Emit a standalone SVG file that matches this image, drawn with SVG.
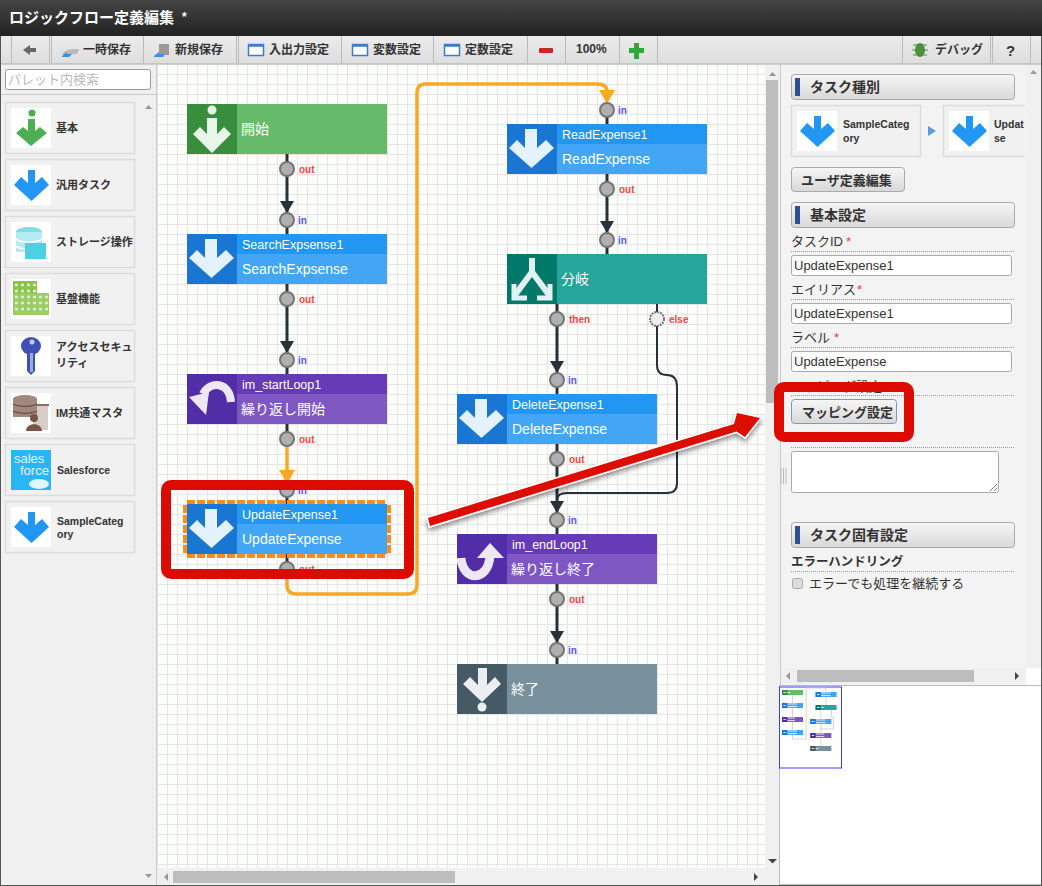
<svg xmlns="http://www.w3.org/2000/svg" width="1042" height="886" viewBox="0 0 1042 886">
<style>
text{font-family:"Liberation Sans","Noto Sans CJK JP",sans-serif}
.tb{font-size:12px;font-weight:bold;fill:#333}
.sep{stroke:#bbb;stroke-width:1}
.pal{fill:#f1f1f1;stroke:#dcdcdc;stroke-width:1.5}
.ic{fill:#fff}
.pl{font-size:11px;font-weight:bold;fill:#333}
.pll{font-size:10.5px;font-weight:bold;fill:#333}
.id{font-size:12.5px;fill:#fff}
.lb{font-size:14px;fill:#fff}
.lbj{font-size:14px;fill:#fff}
.port{fill:#b0b0b0;stroke:#757575;stroke-width:2}
.out{font-size:10px;font-weight:bold;fill:#f44}
.in{font-size:10px;font-weight:bold;fill:#55f}
.dark{fill:none;stroke:#263238;stroke-width:3}
.dark2{fill:none;stroke:#263238;stroke-width:2}
.org{fill:none;stroke:#f9a825;stroke-width:3.5}
.sec{fill:url(#btn);stroke:#aaa;stroke-width:1}
.bar{fill:#2f4f94}
.sect{font-size:14px;font-weight:bold;fill:#333}
.lab{font-size:13px;fill:#333}
.req{font-size:13px;fill:#f33}
.dot{stroke:#999;stroke-width:1;stroke-dasharray:1 1}
.inp{fill:#fff;stroke:#aaa;stroke-width:1}
.val{font-size:13px;fill:#333}
.red{fill:none;stroke:#dd0a00;stroke-width:10}
.sb{fill:#bdbdbd}
.arr{fill:#999}
.w{fill:#e3f2fd}
.sel{fill:none;stroke:#ff8c1a;stroke-width:4;stroke-dasharray:8 2}
</style>
<defs>
<linearGradient id="title" x1="0" y1="0" x2="0" y2="1"><stop offset="0" stop-color="#444"/><stop offset="1" stop-color="#222"/></linearGradient>
<linearGradient id="tool" x1="0" y1="0" x2="0" y2="1"><stop offset="0" stop-color="#ececec"/><stop offset="1" stop-color="#dedede"/></linearGradient>
<linearGradient id="btn" x1="0" y1="0" x2="0" y2="1"><stop offset="0" stop-color="#f6f6f6"/><stop offset="1" stop-color="#d8d8d8"/></linearGradient>
<pattern id="grid" width="10" height="10" patternUnits="userSpaceOnUse" patternTransform="translate(7,4)"><path d="M0.5 0V10M0 0.5H10" stroke="#e8e4e4" stroke-width="1" fill="none"/></pattern>
<marker id="mD" markerUnits="userSpaceOnUse" markerWidth="14" markerHeight="12" refX="7" refY="12" orient="0" viewBox="0 0 14 12"><path d="M0 0H14L7 12Z" fill="#263238"/></marker>
<polygon id="down" points="18,5 30,5 30,24 39,16 47,24 24.500,44 2,24 10,16 18,24"/>
<polygon id="palDown" points="17,5 24,5 24,18 31,12 38,20 20.500,36 3,20 10,12 17,18"/>
<filter id="sh" x="-5%" y="-20%" width="110%" height="140%"><feDropShadow dx="0" dy="3" stdDeviation="2.500" flood-color="#000" flood-opacity=".45"/></filter>
<clipPath id="cardClip"><rect x="780" y="100" width="245" height="62"/></clipPath>
</defs>

<rect width="1042" height="886" fill="#f2f2f2"/>

<g id="titlebar">
<rect width="1042" height="36" fill="url(#title)"/>
<text x="9" y="23" font-size="15" font-weight="bold" fill="#fff">ロジックフロー定義編集</text>
<text x="182" y="21" font-size="12" font-weight="bold" fill="#fff">*</text>
</g>

<g id="toolbar">
<rect y="36" width="1042" height="28" fill="url(#tool)"/>
<path class="sep" d="M11.500 36V63M49.500 36V63M51.500 36V63M143.500 36V63M236.500 36V63M238.500 36V63M341.500 36V63M433.500 36V63M527.500 36V63M565.500 36V63M619.500 36V63M657.500 36V63M902.500 36V63M990.500 36V63M992.500 36V63M1030.500 36V63"/>
<path d="M0 64H1042" stroke="#aaa"/>
<path d="M23 50l7-5v3h6v4h-6v3z" fill="#666"/>
<path d="M62 54c3-4 8-5 12-5h5l-2 5h-8l-2 2z" fill="#bbb"/><path d="M62 56l5-4v2h5l-3 3h-7z" fill="#3d8fd8"/>
<text class="tb" x="83" y="54">一時保存</text>
<rect x="159" y="44" width="10" height="11" fill="#999"/><path d="M154 56l5-4v2h6l-2 3h-9z" fill="#3d8fd8"/>
<text class="tb" x="175" y="54">新規保存</text>
<g fill="#fff" stroke="#3a7fc4" stroke-width="1.500"><rect x="248.500" y="44.500" width="15" height="11"/><rect x="352.500" y="44.500" width="15" height="11"/><rect x="444.500" y="44.500" width="15" height="11"/></g>
<path d="M248 45.500h16M352 45.500h16M444 45.500h16" stroke="#3a7fc4" stroke-width="2.500"/>
<text class="tb" x="269" y="54">入出力設定</text>
<text class="tb" x="373" y="54">変数設定</text>
<text class="tb" x="465" y="54">定数設定</text>
<rect x="539" y="48" width="14" height="5" rx="1" fill="#c62828"/>
<text class="tb" x="576" y="53">100%</text>
<path d="M634 43h5v5h5v5h-5v6h-5v-6h-5v-5h5z" fill="#2eaa3a"/>
<g fill="#4c8f3c"><ellipse cx="920" cy="50" rx="5" ry="7"/><path d="M913 45l14 0M912 50h16M913 55h14" stroke="#4c8f3c"/></g>
<text class="tb" x="935" y="54">デバッグ</text>
<text x="1006" y="56" font-size="15" font-weight="bold" fill="#333">?</text>
</g>

<g id="palette">
<rect x="0" y="65" width="157" height="821" fill="#f0f0f0"/>
<path d="M156.500 65V886" stroke="#ccc"/>
<path d="M0 94.500H156" stroke="#ccc"/>
<rect x="5.500" y="69.500" width="145" height="20" rx="2" fill="#fff" stroke="#999"/>
<text x="8" y="84" font-size="13" fill="#bbb">パレット内検索</text>
<path d="M145 109l3.500-4 3.500 4z" class="arr"/><path d="M145 874l3.500 4 3.500-4z" class="arr"/>
<rect class="pal" x="5.500" y="102.500" width="129" height="51"/><rect class="ic" x="11" y="108" width="40" height="40"/>
<rect class="pal" x="5.500" y="159.500" width="129" height="51"/><rect class="ic" x="11" y="165" width="40" height="40"/>
<rect class="pal" x="5.500" y="216.500" width="129" height="51"/><rect class="ic" x="11" y="222" width="40" height="40"/>
<rect class="pal" x="5.500" y="273.500" width="129" height="51"/><rect class="ic" x="11" y="279" width="40" height="40"/>
<rect class="pal" x="5.500" y="330.500" width="129" height="51"/><rect class="ic" x="11" y="336" width="40" height="40"/>
<rect class="pal" x="5.500" y="387.500" width="129" height="51"/><rect class="ic" x="11" y="393" width="40" height="40"/>
<rect class="pal" x="5.500" y="444.500" width="129" height="51"/><rect x="11" y="450" width="40" height="40" fill="#29b6f6"/>
<rect class="pal" x="5.500" y="501.500" width="129" height="51"/><rect class="ic" x="11" y="507" width="40" height="40"/>
<g fill="#4caf50"><circle cx="32" cy="113" r="3.500"/><polygon points="28,119 35,119 35,131 40,127 47,133 31,146 16,133 23,127 28,131"/></g>
<use href="#palDown" x="11" y="165" fill="#2196f3"/>
<g><ellipse cx="29" cy="232" rx="13" ry="5" fill="#80deea"/><rect x="16" y="232" width="26" height="20" fill="#b2ebf2"/><path d="M16 239c4 4 22 4 26 0M16 246c4 4 22 4 26 0" stroke="#fff" fill="none" stroke-width="1.500"/><rect x="25" y="243" width="21" height="16" fill="#4dd0e1"/></g>
<g><rect x="13" y="281" width="24" height="16" fill="#8bc34a"/><rect x="13" y="293" width="36" height="22" fill="#9ccc65"/><path d="M15 285H37M15 291H37M15 297H48M15 303H48M15 309H48" stroke="#dcedc8" stroke-width="2.500" stroke-dasharray="3 3"/></g>
<g fill="#3f51b5"><ellipse cx="31" cy="346" rx="10" ry="9"/><circle cx="32" cy="342" r="2.500" fill="#c5cae9"/><polygon points="27,352 35,352 35,371 31,375 27,371"/><rect x="30" y="353" width="3" height="19" fill="#9fa8da"/></g>
<g><rect x="33" y="404" width="15" height="26" fill="#d7ccc8"/><path d="M33 405H49" stroke="#8d6e63" stroke-width="2"/><ellipse cx="25" cy="399" rx="12" ry="4" fill="#a1887f"/><rect x="13" y="399" width="24" height="18" fill="#a1887f"/><path d="M13 404c4 3 20 3 24 0M13 411c4 3 20 3 24 0" stroke="#5d4037" fill="none"/><circle cx="34" cy="418" r="4" fill="#795548"/><path d="M26 431c0-9 16-9 16 0z" fill="#795548"/></g>
<g><text x="14" y="463" font-size="13" fill="#e1f5fe">sales</text><text x="20" y="475" font-size="13" fill="#e1f5fe">force</text><ellipse cx="39" cy="484" rx="10" ry="5" fill="#e1f5fe"/></g>
<use href="#palDown" x="11" y="507" fill="#2196f3"/>
<text class="pl" x="56" y="132">基本</text>
<text class="pl" x="56" y="189">汎用タスク</text>
<text class="pl" x="56" y="246">ストレージ操作</text>
<text class="pl" x="56" y="303">基盤機能</text>
<text class="pl" x="56" y="351">アクセスセキュ</text><text class="pl" x="56" y="367">リティ</text>
<text class="pl" x="56" y="417">IM共通マスタ</text>
<text class="pll" x="57" y="474">Salesforce</text>
<text class="pll" x="57" y="525">SampleCateg</text><text class="pll" x="57" y="538">ory</text>
</g>

<rect id="canvas" x="157" y="65" width="609" height="803" fill="#fcfefc"/>
<rect x="157" y="65" width="609" height="803" fill="url(#grid)"/>

<g id="connectors">
<path class="dark" d="M287 154V213" marker-end="url(#mD)"/>
<path class="dark" d="M287 220V234"/>
<path class="dark" d="M287 284V353" marker-end="url(#mD)"/>
<path class="dark" d="M287 360V374"/>
<path class="dark" d="M287 424V440"/>
<path class="org" d="M287 440V470"/>
<path d="M279 470H295L287 484Z" fill="#f9a825"/>
<path class="dark" d="M287 484V504M287 554V570"/>
<path class="org" d="M287 570V585Q287 594 296 594H408Q417 594 417 585V93Q417 84 426 84H597Q607 84 607 92"/>
<path d="M599 90H615L607 104Z" fill="#f9a825"/>
<path class="dark" d="M607 116V124"/>
<path class="dark" d="M607 174V233" marker-end="url(#mD)"/>
<path class="dark" d="M607 240V254"/>
<path class="dark" d="M557 304V373" marker-end="url(#mD)"/>
<path class="dark" d="M557 380V394"/>
<path class="dark2" d="M657 304V365Q657 375 667 375Q677 375 677 387V483Q677 493 667 493H567Q557 493 557 500"/>
<path class="dark" d="M557 444V513" marker-end="url(#mD)"/>
<path class="dark" d="M557 520V534"/>
<path class="dark" d="M557 584V643" marker-end="url(#mD)"/>
<path class="dark" d="M557 650V664"/>
</g>

<g id="n-start">
<rect x="187" y="104" width="200" height="50" fill="#66bb6a"/><rect x="187" y="104" width="50" height="50" fill="#388e3c"/>
<circle cx="212" cy="110" r="4.500" fill="#e8f5e9"/><polygon points="207,118 217,118 217,134 224,127 231,134 212,153 193,134 200,127 207,134" fill="#e8f5e9"/>
<text class="lbj" x="241" y="134">開始</text>
<circle class="port" cx="287" cy="169" r="7"/><text class="out" x="299" y="173">out</text>
</g>
<g id="n-search">
<rect x="187" y="234" width="200" height="50" fill="#42a5f5"/><rect x="237" y="234" width="150" height="20" fill="#2196f3"/><rect x="187" y="234" width="50" height="50" fill="#1976d2"/>
<use href="#down" x="187" y="234" class="w"/>
<text class="id" x="242" y="249">SearchExpsense1</text><text class="lb" x="242" y="274">SearchExpsense</text>
<circle class="port" cx="287" cy="220" r="7"/><text class="in" x="298" y="224">in</text>
<circle class="port" cx="287" cy="299" r="7"/><text class="out" x="299" y="303">out</text>
</g>
<g id="n-startloop">
<rect x="187" y="374" width="200" height="50" fill="#7e57c2"/><rect x="237" y="374" width="150" height="20" fill="#673ab7"/><rect x="187" y="374" width="50" height="50" fill="#512da8"/>
<path d="M231 402C230 382 210 380 203 394" fill="none" stroke="#ede7f6" stroke-width="8"/><polygon points="189,397 206,415 209,392" fill="#ede7f6"/>
<text class="id" x="242" y="389">im_startLoop1</text><text class="lbj" x="241" y="414">繰り返し開始</text>
<circle class="port" cx="287" cy="360" r="7"/><text class="in" x="298" y="364">in</text>
<circle class="port" cx="287" cy="439" r="7"/><text class="out" x="299" y="443">out</text>
</g>
<g id="n-update">
<circle class="port" cx="287" cy="490" r="7"/><text class="in" x="298" y="494">in</text>
<path class="sel" d="M187 502H387M187 556H387M185 505V553M389 505V553"/>
<rect x="187" y="504" width="200" height="50" fill="#42a5f5"/><rect x="237" y="504" width="150" height="20" fill="#2196f3"/><rect x="187" y="504" width="50" height="50" fill="#1976d2"/>
<use href="#down" x="187" y="504" class="w"/>
<text class="id" x="242" y="519">UpdateExpense1</text><text class="lb" x="242" y="544">UpdateExpense</text>
<circle class="port" cx="287" cy="569" r="7"/><text class="out" x="299" y="573">out</text>
</g>
<g id="n-read">
<circle class="port" cx="607" cy="110" r="7"/><text class="in" x="618" y="114">in</text>
<rect x="507" y="124" width="200" height="50" fill="#42a5f5"/><rect x="557" y="124" width="150" height="20" fill="#2196f3"/><rect x="507" y="124" width="50" height="50" fill="#1976d2"/>
<use href="#down" x="507" y="124" class="w"/>
<text class="id" x="562" y="139">ReadExpense1</text><text class="lb" x="562" y="164">ReadExpense</text>
<circle class="port" cx="607" cy="189" r="7"/><text class="out" x="619" y="193">out</text>
</g>
<g id="n-branch">
<circle class="port" cx="607" cy="240" r="7"/><text class="in" x="618" y="244">in</text>
<rect x="507" y="254" width="200" height="50" fill="#26a69a"/><rect x="507" y="254" width="50" height="50" fill="#00796b"/>
<path d="M532 258V272L515 295M532 272L549 295" fill="none" stroke="#e0f2f1" stroke-width="6"/>
<path d="M514 284V298H527M550 284V298H537" fill="none" stroke="#e0f2f1" stroke-width="5"/>
<text class="lbj" x="561" y="284">分岐</text>
<circle class="port" cx="557" cy="319" r="7"/><text class="out" x="569" y="323">then</text>
<circle cx="657" cy="319" r="7" fill="#eee" stroke="#757575" stroke-width="2" stroke-dasharray="2 1"/><text class="out" x="669" y="323">else</text>
</g>
<g id="n-delete">
<circle class="port" cx="557" cy="380" r="7"/><text class="in" x="568" y="384">in</text>
<rect x="457" y="394" width="200" height="50" fill="#42a5f5"/><rect x="507" y="394" width="150" height="20" fill="#2196f3"/><rect x="457" y="394" width="50" height="50" fill="#1976d2"/>
<use href="#down" x="457" y="394" class="w"/>
<text class="id" x="512" y="409">DeleteExpense1</text><text class="lb" x="512" y="434">DeleteExpense</text>
<circle class="port" cx="557" cy="459" r="7"/><text class="out" x="569" y="463">out</text>
</g>
<g id="n-endloop">
<circle class="port" cx="557" cy="520" r="7"/><text class="in" x="568" y="524">in</text>
<rect x="457" y="534" width="200" height="50" fill="#7e57c2"/><rect x="507" y="534" width="150" height="20" fill="#673ab7"/><rect x="457" y="534" width="50" height="50" fill="#512da8"/>
<path d="M461 558C463 582 488 582 490 556" fill="none" stroke="#ede7f6" stroke-width="9"/><polygon points="490,543 504,558 477,558" fill="#ede7f6"/>
<text class="id" x="512" y="549">im_endLoop1</text><text class="lbj" x="511" y="574">繰り返し終了</text>
<circle class="port" cx="557" cy="599" r="7"/><text class="out" x="569" y="603">out</text>
</g>
<g id="n-end">
<circle class="port" cx="557" cy="650" r="7"/><text class="in" x="568" y="654">in</text>
<rect x="457" y="664" width="200" height="50" fill="#78909c"/><rect x="457" y="664" width="50" height="50" fill="#455a64"/>
<polygon points="478,668 487,668 487,685 495,677 501,684 482,702 463,684 470,677 478,685" fill="#eceff1"/><circle cx="482" cy="707" r="4.500" fill="#eceff1"/>
<text class="lbj" x="511" y="694">終了</text>
</g>

<g id="canvas-scroll">
<rect x="765" y="65" width="15" height="803" fill="#f0f0f0"/>
<rect x="157" y="868" width="623" height="17" fill="#f0f0f0"/>
<rect class="sb" x="766" y="80" width="12" height="323"/>
<rect class="sb" x="173" y="871" width="282" height="12"/>
<path d="M769 76l3.500-4 3.500 4z" class="arr"/><path d="M768 859h9l-4.500 4.500z" fill="#444"/>
<path d="M168 873l-4 4 4 4z" class="arr"/><path d="M754 873l4 4-4 4z" fill="#444"/>
</g>

<g id="props">
<rect x="780" y="65" width="262" height="620" fill="#f3f3f3"/>
<path d="M780.500 65V685" stroke="#ccc"/>
<path d="M781 468v16M783.500 468v16M786 468v16" stroke="#bbb"/>
<rect x="1026" y="65" width="16" height="603" fill="#f0f0f0"/>
<path d="M1030 74l3.500-4 3.500 4z" class="arr"/>
<rect class="sec" x="791.500" y="74.500" width="223" height="25" rx="3"/><rect class="bar" x="795" y="78" width="5" height="18"/>
<text class="sect" x="810" y="92">タスク種別</text>
<g clip-path="url(#cardClip)">
<rect class="pal" x="791.500" y="105.500" width="129" height="51"/><rect class="ic" x="797" y="111" width="40" height="40"/><use href="#palDown" x="797" y="111" fill="#2196f3"/>
<text class="pll" x="843" y="128">SampleCateg</text><text class="pll" x="843" y="142">ory</text>
<path d="M928 126l8 5-8 5z" fill="#5b9bd5"/>
<rect class="pal" x="943.500" y="105.500" width="129" height="51"/><rect class="ic" x="949" y="111" width="40" height="40"/><use href="#palDown" x="949" y="111" fill="#2196f3"/>
<text class="pll" x="994" y="128">Updat</text><text class="pll" x="994" y="142">se</text>
</g>
<rect class="sec" x="791.500" y="167.500" width="113" height="24" rx="3"/>
<text x="801" y="185" font-size="13" font-weight="bold" fill="#333">ユーザ定義編集</text>
<rect class="sec" x="791.500" y="202.500" width="223" height="25" rx="3"/><rect class="bar" x="795" y="206" width="5" height="18"/>
<text class="sect" x="810" y="220">基本設定</text>
<text class="lab" x="791" y="246">タスクID</text><text class="req" x="846" y="246">*</text><path class="dot" d="M791 251.500H1015"/>
<rect class="inp" x="791.500" y="255.500" width="220" height="20" rx="2"/><text class="val" x="794" y="270">UpdateExpense1</text>
<text class="lab" x="791" y="294">エイリアス</text><text class="req" x="857" y="294">*</text><path class="dot" d="M791 299.500H1015"/>
<rect class="inp" x="791.500" y="303.500" width="220" height="20" rx="2"/><text class="val" x="794" y="318">UpdateExpense1</text>
<text class="lab" x="791" y="342">ラベル</text><text class="req" x="834" y="342">*</text><path class="dot" d="M791 347.500H1015"/>
<rect class="inp" x="791.500" y="351.500" width="220" height="20" rx="2"/><text class="val" x="794" y="366">UpdateExpense</text>
<text class="lab" x="791" y="391" font-size="14">マッピング設定</text><path class="dot" d="M791 395.500H1015"/>
<rect x="791.500" y="399.500" width="105" height="24" rx="3" fill="url(#btn)" stroke="#7a95e0"/>
<text x="802" y="417" font-size="13" font-weight="bold" fill="#333">マッピング設定</text>
<path class="dot" d="M791 447.500H1015"/>
<rect class="inp" x="791.500" y="451.500" width="207" height="41" rx="2"/><path d="M990 491l7-7M994 491l3-3" stroke="#777"/>
<rect class="sec" x="791.500" y="522.500" width="223" height="25" rx="3"/><rect class="bar" x="795" y="526" width="5" height="18"/>
<text class="sect" x="810" y="540">タスク固有設定</text>
<text x="791" y="566" font-size="12.500" font-weight="bold" fill="#333">エラーハンドリング</text><path class="dot" d="M791 571.500H1015"/>
<rect x="792.500" y="578.500" width="10" height="10" rx="2" fill="#ddd" stroke="#aaa"/>
<text x="809" y="588" font-size="13" fill="#333">エラーでも処理を継続する</text>
<rect x="781" y="668" width="245" height="16" fill="#f0f0f0"/><rect class="sb" x="797" y="670" width="177" height="12"/>
<path d="M790 672l-4 4 4 4z" class="arr"/><path d="M1015 672l4 4-4 4z" fill="#444"/>
<rect x="1026" y="668" width="16" height="17" fill="#fff"/>
</g>

<g id="minimap">
<rect x="779" y="685" width="263" height="200" fill="#fff"/>
<path d="M779 685.500H1042M779.500 685V885M779 884.500H1042" stroke="#bbb"/>
<rect x="779.500" y="687" width="62" height="81" fill="#fff" stroke="#3f3ff0" stroke-width="1"/>
<g transform="translate(782,690) scale(.105,.1) translate(-187,-104)">
<path d="M287 154V504M287 554V594H417V84H607V124M607 174V254M557 304V394M657 304V375H677V493H557M557 444V664" fill="none" stroke="#ccc" stroke-width="8"/>
<rect x="187" y="104" width="200" height="50" fill="#66bb6a"/><rect x="187" y="104" width="50" height="50" fill="#388e3c"/>
<rect x="187" y="234" width="200" height="50" fill="#42a5f5"/><rect x="187" y="234" width="50" height="50" fill="#1976d2"/>
<rect x="187" y="374" width="200" height="50" fill="#7e57c2"/><rect x="187" y="374" width="50" height="50" fill="#512da8"/>
<rect x="187" y="504" width="200" height="50" fill="#42a5f5"/><rect x="187" y="504" width="50" height="50" fill="#1976d2"/>
<rect x="507" y="124" width="200" height="50" fill="#42a5f5"/><rect x="507" y="124" width="50" height="50" fill="#1976d2"/>
<rect x="507" y="254" width="200" height="50" fill="#26a69a"/><rect x="507" y="254" width="50" height="50" fill="#00796b"/>
<rect x="457" y="394" width="200" height="50" fill="#42a5f5"/><rect x="457" y="394" width="50" height="50" fill="#1976d2"/>
<rect x="457" y="534" width="200" height="50" fill="#7e57c2"/><rect x="457" y="534" width="50" height="50" fill="#512da8"/>
<rect x="457" y="664" width="200" height="50" fill="#78909c"/><rect x="457" y="664" width="50" height="50" fill="#455a64"/>
<path d="M240 129H265M240 244H330M240 270H330M240 384H310M240 410H310M240 514H330M240 540H330M560 134H650M560 160H650M560 279H585M510 404H600M510 430H600M510 544H590M510 570H590M510 689H535M200 129H225M200 259H225M200 399H225M200 529H225M520 149H545M520 279H545M470 419H495M470 559H495M470 689H495" stroke="#fff" stroke-width="8" fill="none"/>
</g>
</g>

<g id="annotations">
<rect class="red" x="166" y="485" width="243" height="89" rx="5"/>
<rect class="red" x="779" y="387" width="130" height="50" rx="5"/>
<polygon points="428,518 734,424 737,413 760,418 745,437 736.500,431.500 430,526" fill="#dd0a00" stroke="#fff" stroke-width="3" paint-order="stroke" filter="url(#sh)"/>
</g>

<path d="M0.500 36V886M1041.500 36V886M0 885.500H1042" stroke="#555" fill="none"/>
</svg>
